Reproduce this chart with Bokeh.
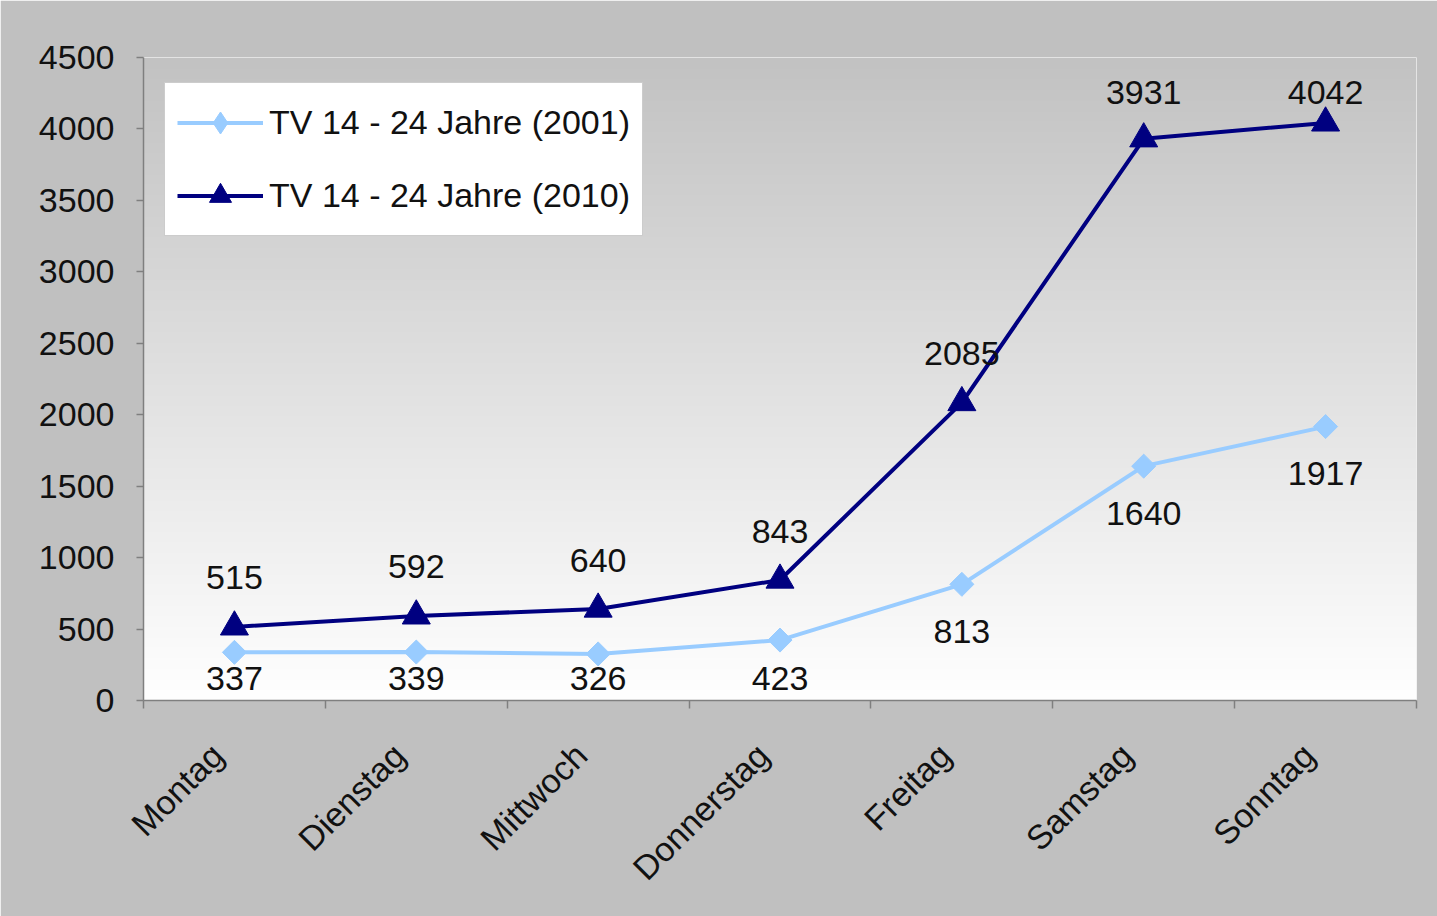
import numpy as np
from bokeh.plotting import figure
from bokeh.models import ColumnDataSource, FixedTicker, Range1d, Legend, LegendItem
from bokeh.core.properties import value
from bokeh.embed import file_html
from bokeh.resources import INLINE

# ---- data ----
days = ["Montag", "Dienstag", "Mittwoch", "Donnerstag", "Freitag", "Samstag", "Sonntag"]
tv_2001 = [337, 339, 326, 423, 813, 1640, 1917]
tv_2010 = [515, 592, 640, 843, 2085, 3931, 4042]
series_names = ["TV 14 - 24 Jahre (2001)", "TV 14 - 24 Jahre (2010)"]
y_ticks = [0, 500, 1000, 1500, 2000, 2500, 3000, 3500, 4000, 4500]

# ---- layout ----
W, H = 1437, 916
LEFT, RIGHT, TOP, BOTTOM = 143, 21, 57, 216
FRAME_H = H - TOP - BOTTOM
Y_MAX = y_ticks[-1]
px = Y_MAX / FRAME_H  # data units per pixel

FONT = "Liberation Sans"
FS = "34px"
TXT = "#111111"

p = figure(width=W, height=H, x_range=Range1d(0, len(days)), y_range=Range1d(0, Y_MAX),
           output_backend="svg", toolbar_location=None,
           min_border_left=LEFT, min_border_right=RIGHT,
           min_border_top=TOP, min_border_bottom=BOTTOM)
p.border_fill_color = "#c0c0c0"
p.background_fill_color = "#ffffff"
p.outline_line_color = None
p.xgrid.visible = False
p.ygrid.visible = False

# gradient plot-area background (gray at top -> white at bottom)
n = 600
t = np.linspace(0, 1, n)
g = (255 - t * (255 - 194)).astype(np.uint32)
img = (255 << 24) | (g << 16) | (g << 8) | g
img = img.reshape(n, 1).astype(np.uint32)
p.image_rgba(image=[img], x=0, y=0, dw=len(days), dh=Y_MAX)

xc = [i + 0.5 for i in range(len(days))]
lab_2010 = [min(v + 49 * px, Y_MAX - 35 * px) for v in tv_2010]
lab_2001 = [max(v - 47 * px, 22 * px) for v in tv_2001]
src = ColumnDataSource(dict(x=xc, a=tv_2001, b=tv_2010,
                            ta=[str(v) for v in tv_2001], tb=[str(v) for v in tv_2010],
                            ya=lab_2001, yb=lab_2010))

c1, c2 = "#99ccff", "#000080"
l1 = p.line("x", "a", source=src, line_color=c1, line_width=4)
m1 = p.scatter("x", "a", source=src, marker="square", angle=np.pi / 4, size=17,
               fill_color=c1, line_color=c1)
l2 = p.line("x", "b", source=src, line_color=c2, line_width=4)
m2 = p.scatter("x", "b", source=src, marker="triangle", size=28,
               fill_color=c2, line_color=c2)
# legend-only diamond proxy (NaN point is not drawn; legend ignores marker angle)
leg_d = p.scatter(x=[np.nan], y=[np.nan], marker="diamond", size=20,
                  fill_color=c1, line_color=c1)

for col, ycol in (("ta", "ya"), ("tb", "yb")):
    p.text("x", ycol, text=col, source=src, text_font=value(FONT), text_font_size=FS,
           text_color=TXT, text_align="center", text_baseline="middle")

# axes: rotated category labels are anchored slightly left of each category centre
LABEL_SHIFT = 0.09375
label_ticks = [x - LABEL_SHIFT for x in xc]
ax = p.xaxis[0]
ax.ticker = FixedTicker(ticks=label_ticks, minor_ticks=list(range(len(days) + 1)))
ax.major_label_overrides = {x: d for x, d in zip(label_ticks, days)}
ax.major_tick_out = 0
ax.major_tick_in = 0
ax.major_tick_line_color = None
ax.minor_tick_out = 8
ax.minor_tick_in = 0
ax.minor_tick_line_color = "#7f7f7f"
ax.minor_tick_line_width = 1.5
ax.major_label_orientation = np.pi / 4
ax.major_label_text_font = FONT
ax.major_label_text_font_size = FS
ax.major_label_text_color = TXT
ax.major_label_standoff = 41

ay = p.yaxis[0]
ay.ticker = FixedTicker(ticks=y_ticks)
ay.minor_tick_line_color = None
ay.major_tick_out = 7
ay.major_tick_in = 0
ay.major_tick_line_color = "#7f7f7f"
ay.major_label_standoff = 22
ay.major_label_text_font = FONT
ay.major_label_text_font_size = FS
ay.major_label_text_color = TXT

for a in (ax, ay):
    a.axis_line_color = "#7f7f7f"
    a.axis_line_width = 1.5
    a.major_tick_line_width = 1.5

legend = Legend(items=[LegendItem(label=series_names[0], renderers=[l1, leg_d]),
                       LegendItem(label=series_names[1], renderers=[l2, m2])],
                location=(21, 464))
legend.margin = 0
legend.padding = 12
legend.spacing = 18
legend.glyph_width = 86
legend.glyph_height = 55
legend.label_height = 55
legend.label_standoff = 6
legend.label_text_font = FONT
legend.label_text_font_size = FS
legend.label_text_color = TXT
legend.border_line_color = "#9a9a9a"
legend.border_line_width = 1.5
legend.background_fill_color = "white"
legend.background_fill_alpha = 1.0
p.add_layout(legend)

open("out.html", "w").write(file_html(p, INLINE))
